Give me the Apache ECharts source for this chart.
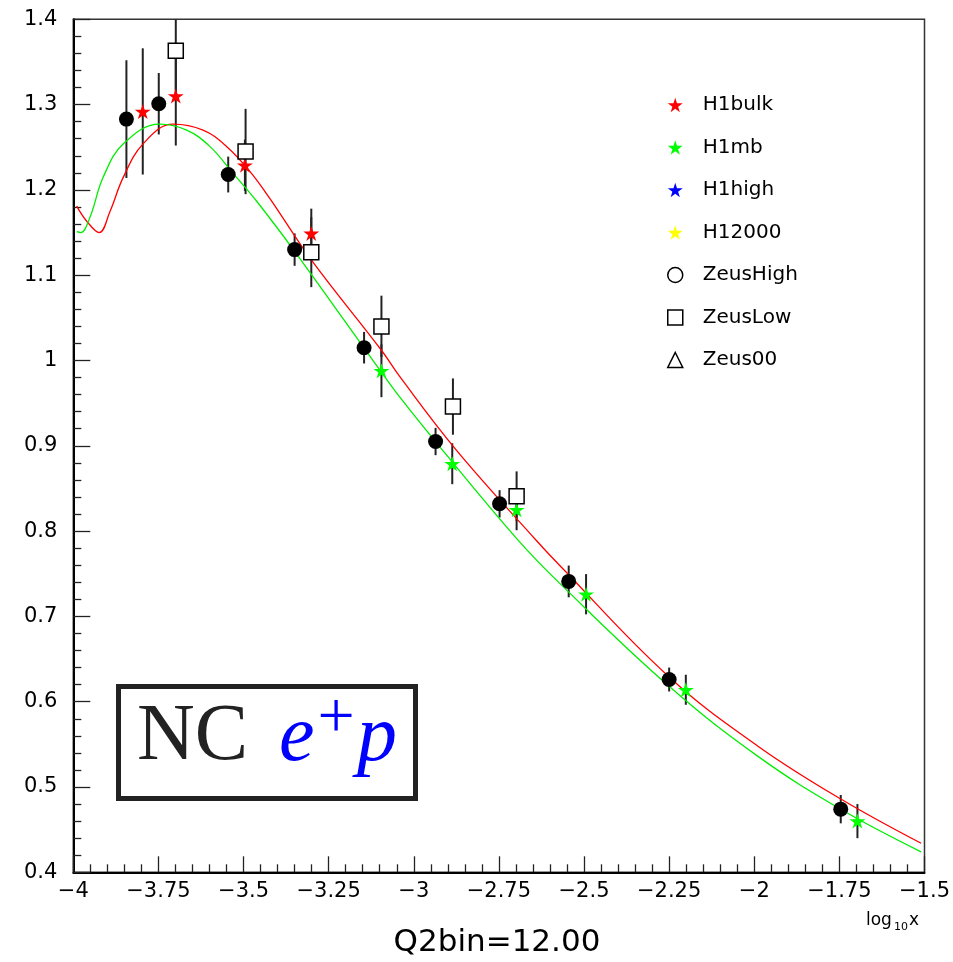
<!DOCTYPE html>
<html>
<head>
<meta charset="utf-8">
<script src="https://cdn.jsdelivr.net/npm/echarts@6/dist/echarts.min.js"></script>
<style>html,body{margin:0;padding:0;background:#fff;}#main{width:953px;height:962px;}</style>
</head>
<body>
<div id="main"></div>
<script>
// ---- data ----
const zeusHighX   = [-3.844, -3.749, -3.545, -3.350, -3.146, -2.936, -2.748, -2.545, -2.250, -1.746];
const zeusHighY   = [1.283, 1.301, 1.218, 1.130, 1.015, 0.905, 0.832, 0.741, 0.626, 0.474];
const zeusHighErr = [0.069, 0.036, 0.021, 0.019, 0.0185, 0.016, 0.016, 0.0186, 0.014, 0.0166];

const h1bulkX   = [-3.796, -3.699, -3.496, -3.301];
const h1bulkY   = [1.292, 1.310, 1.229, 1.149];
const h1bulkErr = [0.074, 0.058, 0.030, 0.029];

const h1mbX   = [-3.095, -2.887, -2.698, -2.494, -2.201, -1.697];
const h1mbY   = [0.988, 0.879, 0.825, 0.726, 0.614, 0.460];
const h1mbErr = [0.031, 0.024, 0.024, 0.0236, 0.0176, 0.020];

const zeusLowX   = [-3.699, -3.494, -3.301, -3.095, -2.885, -2.698];
const zeusLowY   = [1.363, 1.245, 1.127, 1.040, 0.946, 0.841];
const zeusLowErr = [0.053, 0.050, 0.041, 0.036, 0.033, 0.029];

const redCurveX = [-3.99, -3.96, -3.924, -3.892, -3.853, -3.795, -3.707, -3.619, -3.55, -3.482, -3.423, -3.301, -3.095, -3.041, -2.875, -2.64, -2.572, -2.25, -1.986, -1.742, -1.51];
const redCurveY = [1.181, 1.163, 1.150, 1.175, 1.215, 1.254, 1.277, 1.270, 1.251, 1.222, 1.190, 1.118, 1.012, 0.981, 0.895, 0.789, 0.760, 0.629, 0.547, 0.485, 0.434];

const greenCurveX = [-3.99, -3.978, -3.951, -3.912, -3.853, -3.746, -3.667, -3.599, -3.53, -3.462, -3.35, -3.10, -3.041, -2.924, -2.695, -2.572, -2.25, -1.986, -1.742, -1.51];
const greenCurveY = [1.151, 1.150, 1.168, 1.215, 1.254, 1.277, 1.270, 1.251, 1.219, 1.187, 1.128, 0.989, 0.957, 0.899, 0.790, 0.739, 0.618, 0.535, 0.473, 0.424];

const legendNames = ['H1bulk', 'H1mb', 'H1high', 'H12000', 'ZeusHigh', 'ZeusLow', 'Zeus00'];

const X_MIN = -4, X_MAX = -1.5, Y_MIN = 0.4, Y_MAX = 1.4;
const STAR = 'path://M50,0L61.2,34.5L97.6,34.5L68.2,55.9L79.4,90.5L50,69.1L20.6,90.5L31.8,55.9L2.4,34.5L38.8,34.5Z';
const FONT = 'DejaVu Sans';

function pairs(xs, ys) { return xs.map((x, i) => [x, ys[i]]); }

function errBars(id, xs, ys, es) {
  return {
    type: 'custom', id: id, silent: true, z: 2,
    data: xs.map((x, i) => [x, ys[i], es[i]]),
    encode: { x: 0, y: 1 },
    renderItem: function (params, api) {
      const x = api.value(0), y = api.value(1), e = api.value(2);
      const t = api.coord([x, Math.min(y + e, Y_MAX)]);
      const b = api.coord([x, Math.max(y - e, Y_MIN)]);
      return { type: 'line', shape: { x1: t[0], y1: t[1], x2: b[0], y2: b[1] },
               style: { stroke: '#222', lineWidth: 2 } };
    }
  };
}

const chart = echarts.init(document.getElementById('main'), null, { renderer: 'canvas' });

const option = {
  backgroundColor: '#fff',
  animation: false,
  grid: { left: 73.3, right: 27.5, top: 19.3, bottom: 89.7, show: true, borderColor: '#333', borderWidth: 1.5 },
  xAxis: {
    type: 'value', min: X_MIN, max: X_MAX, interval: 0.25,
    axisLine: { show: true, onZero: false, lineStyle: { color: '#000', width: 2 } },
    axisTick: { show: true, inside: true, length: 16, lineStyle: { color: '#222', width: 1.3 } },
    minorTick: { show: true, splitNumber: 5, length: 8, lineStyle: { color: '#222', width: 1.3 } },
    splitLine: { show: false },
    axisLabel: { margin: 9, color: '#000', fontFamily: FONT, fontSize: 21,
      formatter: v => String(parseFloat(v.toFixed(2))).replace('-', '\u2212') }
  },
  yAxis: {
    type: 'value', min: Y_MIN, max: Y_MAX, interval: 0.1,
    axisLine: { show: true, onZero: false, lineStyle: { color: '#000', width: 2 } },
    axisTick: { show: true, inside: true, length: 17, lineStyle: { color: '#222', width: 1.3 } },
    minorTick: { show: true, splitNumber: 5, length: 8, lineStyle: { color: '#222', width: 1.3 } },
    splitLine: { show: false },
    axisLabel: { margin: 16, color: '#000', fontFamily: FONT, fontSize: 21,
      formatter: v => String(parseFloat(v.toFixed(2))) }
  },
  legend: {
    orient: 'vertical', left: 662, top: 90, itemWidth: 15, itemHeight: 15, itemGap: 22.5,
    selectedMode: false,
    textStyle: { fontFamily: FONT, fontSize: 20, color: '#000', padding: [0, 0, 0, 15] },
    data: [
      { name: 'H1bulk' },
      { name: 'H1mb' },
      { name: 'H1high' },
      { name: 'H12000' },
      { name: 'ZeusHigh', icon: 'circle', itemStyle: { color: '#fff', borderColor: '#000', borderWidth: 1.5, opacity: 1 } },
      { name: 'ZeusLow', icon: 'rect', itemStyle: { color: '#fff', borderColor: '#000', borderWidth: 1.5, opacity: 1 } },
      { name: 'Zeus00', icon: 'triangle', itemStyle: { color: '#fff', borderColor: '#000', borderWidth: 1.5, opacity: 1 } }
    ]
  },
  series: [
    errBars('eZH', zeusHighX, zeusHighY, zeusHighErr),
    errBars('eHB', h1bulkX, h1bulkY, h1bulkErr),
    errBars('eHM', h1mbX, h1mbY, h1mbErr),
    errBars('eZL', zeusLowX, zeusLowY, zeusLowErr),
    { type: 'line', id: 'red', data: pairs(redCurveX, redCurveY), smooth: 0.4, showSymbol: false, silent: true,
      lineStyle: { color: '#ff0000', width: 1.3 }, z: 3 },
    { type: 'line', id: 'green', data: pairs(greenCurveX, greenCurveY), smooth: 0.4, showSymbol: false, silent: true,
      lineStyle: { color: '#00ee00', width: 1.3 }, z: 3 },
    { type: 'scatter', name: 'H1bulk', data: pairs(h1bulkX, h1bulkY), symbol: STAR, symbolSize: [16, 15],
      itemStyle: { color: '#ff0000', opacity: 1 }, z: 5 },
    { type: 'scatter', name: 'H1mb', data: pairs(h1mbX, h1mbY), symbol: STAR, symbolSize: [16, 15],
      itemStyle: { color: '#00ff00', opacity: 1 }, z: 5 },
    { type: 'scatter', name: 'H1high', data: [], symbol: STAR, symbolSize: [15, 14], itemStyle: { color: '#0000ff', opacity: 1 } },
    { type: 'scatter', name: 'H12000', data: [], symbol: STAR, symbolSize: [15, 14], itemStyle: { color: '#ffff00', opacity: 1 } },
    { type: 'scatter', name: 'ZeusHigh', data: pairs(zeusHighX, zeusHighY), symbol: 'circle', symbolSize: 15,
      itemStyle: { color: '#000', opacity: 1 }, z: 5 },
    { type: 'scatter', name: 'ZeusLow', data: pairs(zeusLowX, zeusLowY), symbol: 'rect', symbolSize: 15,
      itemStyle: { color: '#fff', borderColor: '#000', borderWidth: 1.5, opacity: 1 }, z: 5 },
    { type: 'scatter', name: 'Zeus00', data: [], symbol: 'triangle', symbolSize: 15,
      itemStyle: { color: '#fff', borderColor: '#000', borderWidth: 1.5, opacity: 1 } }
  ],
  graphic: [
    { type: 'rect', shape: { x: 118.5, y: 686.5, width: 297, height: 112 },
      style: { fill: 'none', stroke: '#222', lineWidth: 5 }, z: 10 },
    { type: 'text', x: 137, y: 738, style: { text: 'NC', font: 'normal 80px "Liberation Serif"', fill: '#222',
      textAlign: 'left', textVerticalAlign: 'middle' }, z: 10 },
    { type: 'text', x: 279, y: 739, style: { text: 'e', font: 'italic 80px "Liberation Serif"', fill: '#0000ff',
      textAlign: 'left', textVerticalAlign: 'middle' }, z: 10 },
    { type: 'text', x: 336, y: 720, style: { text: '+', font: 'normal 66px "Liberation Serif"', fill: '#0000ff',
      textAlign: 'center', textVerticalAlign: 'middle' }, z: 10 },
    { type: 'text', x: 357, y: 739, style: { text: 'p', font: 'italic 80px "Liberation Serif"', fill: '#0000ff',
      textAlign: 'left', textVerticalAlign: 'middle' }, z: 10 },
    { type: 'text', x: 866, y: 921, style: { text: 'log', font: 'normal 17px "DejaVu Sans"', fill: '#000',
      textAlign: 'left', textVerticalAlign: 'middle' } },
    { type: 'text', x: 894, y: 927, style: { text: '10', font: 'normal 11px "DejaVu Sans"', fill: '#000',
      textAlign: 'left', textVerticalAlign: 'middle' } },
    { type: 'text', x: 909, y: 921, style: { text: 'x', font: 'normal 17px "DejaVu Sans"', fill: '#000',
      textAlign: 'left', textVerticalAlign: 'middle' } },
    { type: 'text', x: 497, y: 943, style: { text: 'Q2bin=12.00', font: 'normal 31px "DejaVu Sans"', fill: '#000',
      textAlign: 'center', textVerticalAlign: 'middle' } }
  ]
};
chart.setOption(option);
</script>
</body>
</html>
